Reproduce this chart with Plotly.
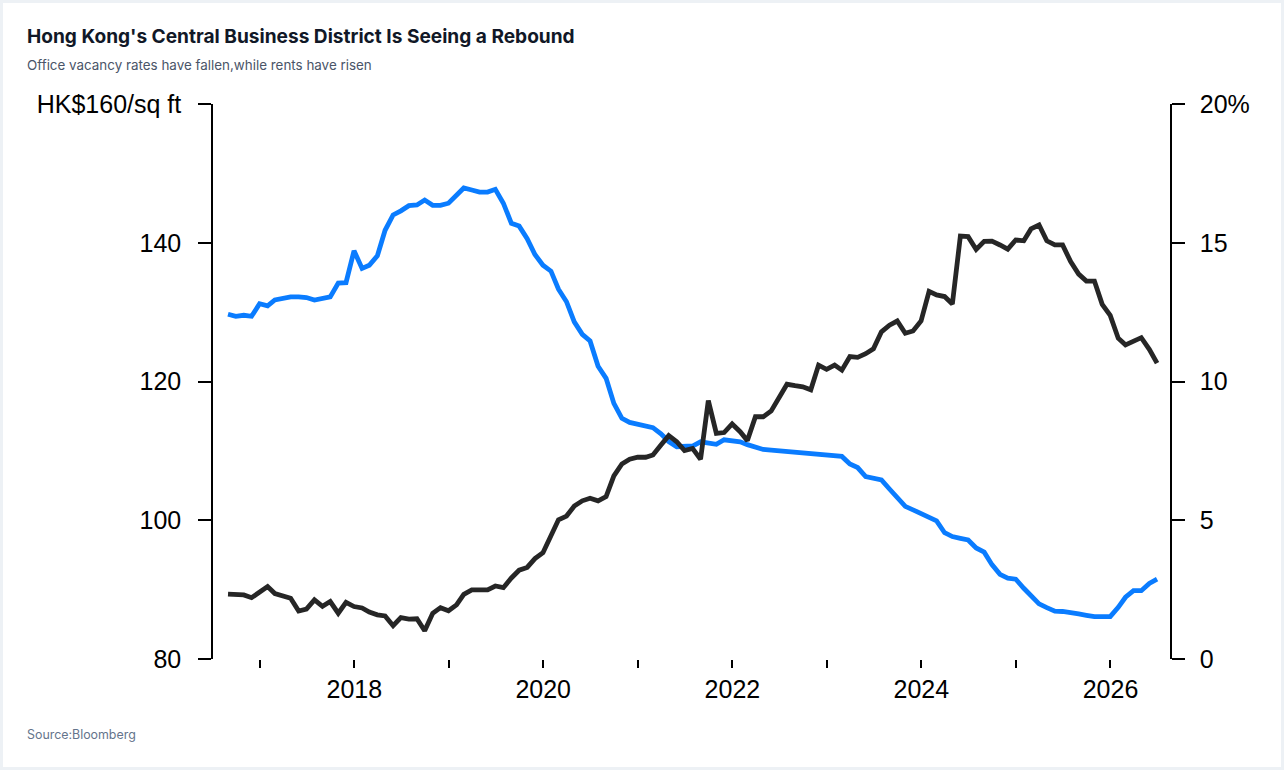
import pandas as pd
import plotly.graph_objects as go

# monthly (month end), Aug 2016 - Jun 2026
dates = pd.date_range("2016-08-31", periods=119, freq=pd.offsets.MonthEnd())

# Grade A office rent, HK$ per sq ft (left axis)
rent = [
    129.7, 129.4, 129.55, 129.4, 131.2, 130.9, 131.75, 131.95, 132.2, 132.2,
    132.1, 131.75, 131.9, 132.2, 134.2, 134.25, 138.85, 136.3, 136.75, 138.1,
    141.8, 144.0, 144.6, 145.35, 145.45, 146.15, 145.4, 145.4, 145.7, 146.8,
    147.9, 147.6, 147.3, 147.3, 147.7, 145.7, 142.8, 142.4, 140.6, 138.3,
    136.75, 135.9, 133.3, 131.5, 128.6, 126.8, 125.85, 122.2, 120.45, 116.85,
    114.7, 114.1, 113.8, 113.6, 113.35, 112.45, 111.35, 110.6, 110.7, 110.7,
    111.3, 111.2, 110.95, 111.6, 111.45, 111.3, 110.9, 110.5, 110.2, 110.1,
    110.0, 109.85, 109.7, 109.55, 109.5, 109.45, 109.4, 109.3, 109.2, 108.1,
    107.6, 106.3, 106.1, 105.8, 104.5, 103.2, 102.0, 101.5, 101.0, 100.5,
    99.9, 98.2, 97.65, 97.4, 97.15, 96.0, 95.4, 93.6, 92.2, 91.65,
    91.5, 90.2, 89.1, 87.95, 87.4, 86.9, 86.85, 86.6, 86.5, 86.3,
    86.1, 86.1, 86.1, 87.45, 88.9, 89.85, 89.85, 90.9, 91.5,
]

# office vacancy rate, % (right axis)
vacancy = [
    2.34, 2.34, 2.31, 2.21, 2.40, 2.61, 2.36, 2.26, 2.19, 1.73,
    1.80, 2.13, 1.90, 2.07, 1.65, 2.04, 1.89, 1.84, 1.69, 1.59,
    1.55, 1.20, 1.49, 1.44, 1.45, 1.02, 1.65, 1.85, 1.74, 1.95,
    2.33, 2.49, 2.49, 2.49, 2.63, 2.57, 2.92, 3.20, 3.30, 3.62,
    3.83, 4.40, 5.02, 5.15, 5.51, 5.70, 5.79, 5.70, 5.85, 6.60,
    7.03, 7.20, 7.27, 7.27, 7.35, 7.71, 8.05, 7.83, 7.51, 7.59,
    7.20, 9.31, 8.13, 8.16, 8.47, 8.19, 7.87, 8.73, 8.73, 8.94,
    9.40, 9.90, 9.85, 9.81, 9.70, 10.59, 10.44, 10.59, 10.41, 10.90,
    10.87, 11.0, 11.18, 11.79, 12.03, 12.18, 11.74, 11.82, 12.18, 13.25,
    13.12, 13.06, 12.79, 15.24, 15.22, 14.76, 15.05, 15.06, 14.92, 14.77,
    15.10, 15.07, 15.50, 15.64, 15.07, 14.92, 14.92, 14.32, 13.87, 13.62,
    13.62, 12.78, 12.38, 11.56, 11.32, 11.45, 11.58, 11.16, 10.66,
]

rent_ticks = [80, 100, 120, 140, 160]
rent_labels = ["80", "100", "120", "140", "HK$160/sq ft"]
vac_ticks = [0, 5, 10, 15, 20]
vac_labels = ["0", "5", "10", "15", "20%"]
years = list(range(2017, 2027))
year_labels = [str(y) if y % 2 == 0 else "" for y in years]

axis_font = dict(family="Liberation Sans, Arial, sans-serif", size=25, color="black")

fig = go.Figure()
fig.add_trace(go.Scatter(x=dates, y=rent, mode="lines", name="Rent",
                         line=dict(color="#0A7CFF", width=4.8), yaxis="y"))
fig.add_trace(go.Scatter(x=dates, y=vacancy, mode="lines", name="Vacancy",
                         line=dict(color="#262626", width=4.8), yaxis="y2"))

fig.update_layout(
    width=1284, height=770,
    margin=dict(l=213, r=114, t=104, b=111),
    paper_bgcolor="white", plot_bgcolor="white",
    showlegend=False,
    xaxis=dict(
        range=["2016-07-04", "2026-08-19"],
        tickvals=[f"{y}-01-01" for y in years], ticktext=year_labels,
        ticks="outside", ticklen=8, tickwidth=1.5, tickcolor="black",
        showline=False, showgrid=False, zeroline=False,
        tickfont=axis_font,
    ),
    yaxis=dict(
        range=[80, 160], tickvals=rent_ticks, ticktext=rent_labels,
        ticks="outside", ticklen=13, tickwidth=1.5, tickcolor="black",
        showline=True, linecolor="black", linewidth=1.5,
        showgrid=False, zeroline=False, tickfont=axis_font,
        ticklabelstandoff=12,
    ),
    yaxis2=dict(
        range=[0, 20], tickvals=vac_ticks, ticktext=vac_labels,
        overlaying="y", side="right",
        ticks="outside", ticklen=13, tickwidth=1.5, tickcolor="black",
        showline=True, linecolor="black", linewidth=1.5,
        showgrid=False, zeroline=False, tickfont=axis_font,
        ticklabelstandoff=10,
    ),
)

# light card frame
fig.add_shape(type="rect", xref="paper", yref="paper",
              x0=(1.5 - 213) / 957, x1=(1282.5 - 213) / 957,
              y0=(659 - 768.5) / 555, y1=(659 - 1.5) / 555,
              line=dict(color="#edf1f5", width=3), layer="below")

fig.add_annotation(text="<b>Hong Kong's Central Business District Is Seeing a Rebound</b>",
                   xref="paper", yref="paper", x=(25 - 213) / 957, y=(659 - 36) / 555,
                   xanchor="left", yanchor="middle", showarrow=False,
                   font=dict(family="Inter, sans-serif", size=19.1, color="#111827"))
fig.add_annotation(text="Office vacancy rates have fallen,while rents have risen",
                   xref="paper", yref="paper", x=(25 - 213) / 957, y=(659 - 65) / 555,
                   xanchor="left", yanchor="middle", showarrow=False,
                   font=dict(family="Inter, sans-serif", size=13.4, color="#4a5568"))
fig.add_annotation(text="Source:Bloomberg",
                   xref="paper", yref="paper", x=(25 - 213) / 957, y=(659 - 734) / 555,
                   xanchor="left", yanchor="middle", showarrow=False,
                   font=dict(family="Inter, sans-serif", size=12.4, color="#64748b"))

fig.write_html("out.html", config={"displayModeBar": False},
               post_script="document.body.style.margin='0';")
